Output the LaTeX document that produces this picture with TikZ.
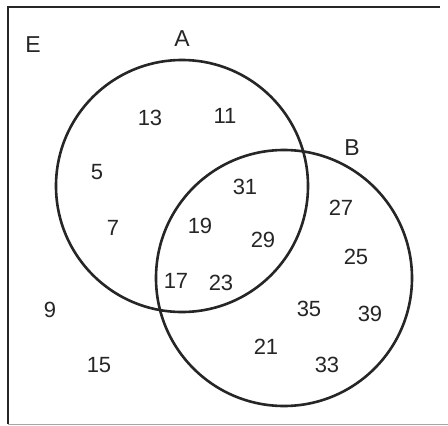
\documentclass[tikz,border=0pt]{standalone}
\usepackage{fontspec}
\setmainfont{Liberation Sans}
\begin{document}
\begin{tikzpicture}[x=1pt,y=-1pt,
  setline/.style={line width=2.6pt,draw=black!85},
  num/.style={font=\fontsize{22}{24}\selectfont,text=black!85,inner sep=0pt},
  lab/.style={font=\fontsize{23}{25}\selectfont,text=black!85,inner sep=0pt}]
\useasboundingbox (0,0) rectangle (448,426);
\fill[white] (0,0) rectangle (448,426);
\draw[setline] (440,7) -- (8,7) -- (8,424);
\draw[line width=0.8pt,draw=black!35] (8,424) -- (448,424);
\node[draw,circle,setline,minimum size=252pt,inner sep=0pt] (A) at (182,186) {};
\node[draw,circle,setline,minimum size=256pt,inner sep=0pt] (B) at (284,278) {};
\node[lab] (E) at (33,45) {E};
\node[lab] (lA) at (182,39) {A};
\node[lab] (lB) at (352,148) {B};
\node[num] (n13) at (150,118) {13};
\node[num] (n11) at (225,116) {11};
\node[num] (n5) at (97,172) {5};
\node[num] (n7) at (113,228) {7};
\node[num] (n31) at (245,187) {31};
\node[num] (n19) at (200,226) {19};
\node[num] (n29) at (263,240) {29};
\node[num] (n27) at (341,208) {27};
\node[num] (n25) at (356,257) {25};
\node[num] (n17) at (176,281) {17};
\node[num] (n23) at (221,283) {23};
\node[num] (n35) at (309,309) {35};
\node[num] (n39) at (370,314) {39};
\node[num] (n9) at (50,310) {9};
\node[num] (n21) at (266,347) {21};
\node[num] (n15) at (99,365) {15};
\node[num] (n33) at (327,365) {33};
\end{tikzpicture}
\end{document}
